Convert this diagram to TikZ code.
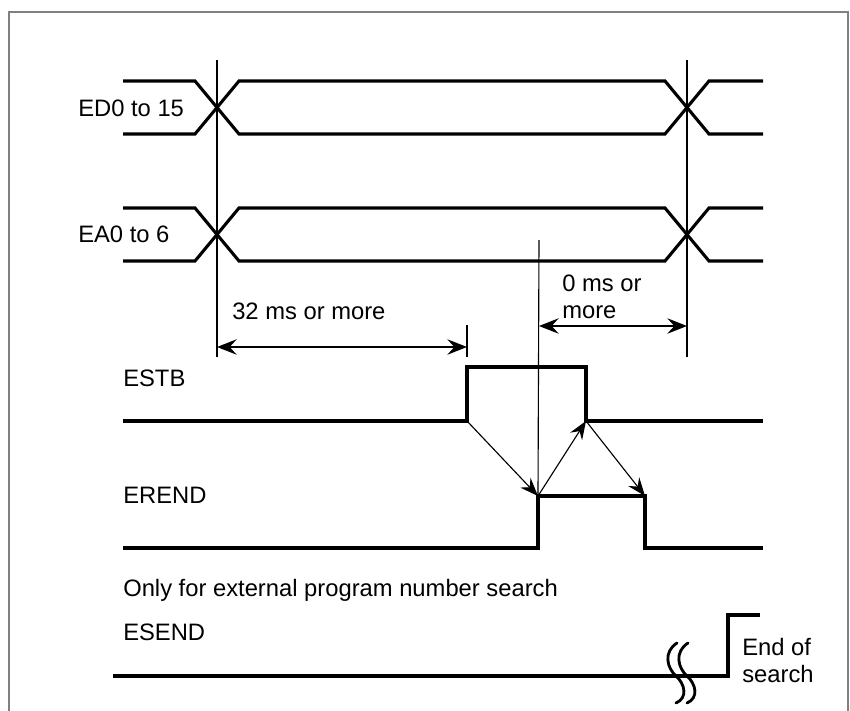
\documentclass[tikz,border=0pt]{standalone}
\usepackage{fontspec}
\setmainfont{Liberation Sans}
\usepackage{tikz}
\usetikzlibrary{arrows.meta,calc}
\definecolor{grisCadre}{RGB}{128,128,128}

\begin{document}
\begin{tikzpicture}[x=0.025cm,y=-0.025cm,
  font=\fontsize{16.9}{19.2}\selectfont,
  l/.style={anchor=west,inner sep=0pt,align=left},
  sig/.style={line width=2.2pt,line join=miter},
  fin/.style={line width=0.8pt},
  a/.style={-{Stealth[length=13pt,width=10pt,inset=4.5pt]},line width=0.8pt},
  d/.style={{Stealth[length=14pt,width=11pt,inset=5pt]}-{Stealth[length=14pt,width=11pt,inset=5pt]},line width=0.8pt}]

  \useasboundingbox (0,0) rectangle (850,711);
  \draw[grisCadre,line width=1.4pt] (9,711) -- (9,12) -- (848,12) -- (848,711);

  % labels
  \node[l] (ed) at (78,108) {ED0 to 15};
  \node[l] (ea) at (78,234) {EA0 to 6};
  \node[l] (t32) at (232,311) {32 ms or more};
  \node[l] (t0) at (562,297) {0 ms or\\more};
  \node[l] (estb) at (123,378) {ESTB};
  \node[l] (erend) at (123,495) {EREND};
  \node[l] (only) at (123,590) {Only for external program number search};
  \node[l] (esend) at (123,632) {ESEND};
  \node[l] (fin) at (742,660) {End of\\search};

  % ED0 to 15 / EA0 to 6
  \foreach \h/\b in {81/134,208/261}{
    \draw[sig] (123,\h) -- (195,\h) -- (239,\b) -- (665,\b) -- (709,\h) -- (763,\h);
    \draw[sig] (123,\b) -- (195,\b) -- (239,\h) -- (665,\h) -- (709,\b) -- (763,\b);
  }

  % ESTB / EREND
  \coordinate (s1) at (467,421); \coordinate (s2) at (467,367);
  \coordinate (s3) at (586,367); \coordinate (s4) at (586,421);
  \coordinate (r1) at (538,548); \coordinate (r2) at (538,496);
  \coordinate (r3) at (645,496); \coordinate (r4) at (645,548);
  \draw[sig] (123,421) -- (s1) -- (s2) -- (s3) -- (s4) -- (763,421);
  \draw[sig] (123,548) -- (r1) -- (r2) -- (r3) -- (r4) -- (763,548);

  % reperes de temps
  \coordinate (v1) at (217,347); \coordinate (v2) at (467,347);
  \coordinate (v3) at (539,326); \coordinate (v4) at (687,326);
  \draw[fin] (217,60) -- (217,357);
  \draw[fin] (687,60) -- (687,357);
  \draw[fin] (539,240) -- (r2);
  \draw[fin] (467,325) -- (467,357);
  \draw[d] (v1) -- (v2);
  \draw[d] (v3) -- (v4);

  \draw[a] (s1) -- (r2);
  \draw[a] (r2) -- (s4);
  \draw[a] (s4) -- (r3);

  % ESEND
  \draw[sig] (113,676) -- (728,676) -- (728,615) -- (760,615);
  \foreach \dx in {0,11}{
    \draw[line width=2pt,line cap=round] ($(677,643)+(\dx,0)$)
      .. controls ($(663,652)+(\dx,0)$) and ($(667,668)+(\dx,0)$) .. ($(676,676)+(\dx,0)$)
      .. controls ($(685,684)+(\dx,0)$) and ($(688,698)+(\dx,0)$) .. ($(676,703)+(\dx,0)$);
  }
\end{tikzpicture}
\end{document}
